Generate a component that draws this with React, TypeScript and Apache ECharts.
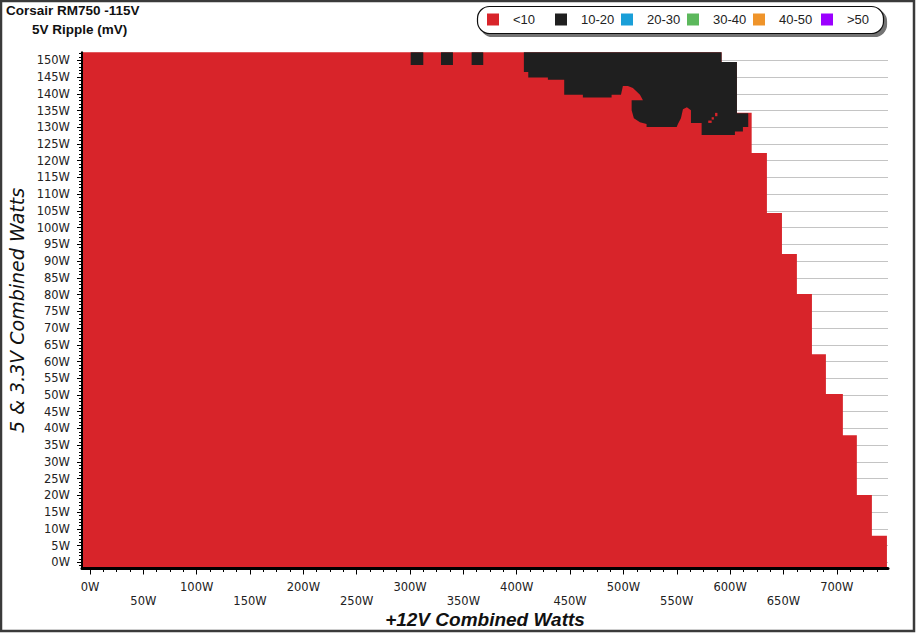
import React, { useEffect, useRef } from 'react';
import * as echarts from 'echarts';

// ---- legend / series ----
const seriesNames = ['<10', '10-20', '20-30', '30-40', '40-50', '>50'];
const seriesColors = ['#d8242a', '#1f1f1f', '#1a9fd8', '#5cb85c', '#ef942a', '#9b00ff'];
const legendLeft = [487, 555, 621, 687, 753, 821];

// ---- axis ranges (W) ----
const X_MIN = -7.5;
const X_MAX = 748;
const Y_MIN = -1.85;
const Y_MAX = 152.4;

// ---- tick labels ----
const xTickLabels = [0, 50, 100, 150, 200, 250, 300, 350, 400, 450, 500, 550, 600, 650, 700];
const yTickLabels = [0, 5, 10, 15, 20, 25, 30, 35, 40, 45, 50, 55, 60, 65, 70, 75, 80, 85, 90, 95, 100, 105, 110, 115, 120, 125, 130, 135, 140, 145, 150];

const range = (a: number, b: number, s: number) => {
  const out: number[] = [];
  for (let v = a; v <= b + 1e-9; v += s) out.push(+v.toFixed(3));
  return out;
};
const xMinorTicks = range(0, 737.5, 12.5);
const yMinorTicks = range(-1, 152, 1);

// ---- load region: for each 5V&3.3V band (top edge, W) the max +12V load (W) ----
const bandTop5V = [152.4, 149.5, 134.3, 122.3, 104.4, 92.1, 80.2, 62.2, 50.3, 38.0, 20.1, 7.9];
const bandMax12V = [592.0, 606.4, 620.2, 634.5, 648.6, 662.6, 676.7, 689.8, 705.7, 718.8, 732.9, 747.0];

// ---- 10-20 mV region outline [+12V W, 5V&3.3V W] ----
const ripple10to20Outline = [
  [406.7, 152.4], [592.0, 152.4], [592.0, 149.5], [606.4, 149.5], [606.4, 134.2], [617.0, 134.2],
  [617.0, 130.1], [612.0, 130.1], [612.0, 128.7], [604.5, 128.7], [604.5, 127.7], [573.3, 127.7],
  [573.3, 131.3], [563.3, 131.3], [563.3, 135.1], [559.5, 136.0], [555.8, 135.4], [553.9, 132.7],
  [551.1, 131.0], [549.9, 130.1], [521.7, 130.1], [521.7, 131.0], [515.5, 131.5], [509.8, 132.7],
  [507.7, 135.1], [507.7, 138.1], [518.3, 138.1], [515.5, 139.7], [508.9, 141.7], [504.2, 142.3],
  [499.5, 142.3], [497.7, 139.7], [488.9, 139.7], [488.9, 138.9], [462.0, 138.9], [462.0, 139.7],
  [444.5, 139.7], [444.5, 144.2], [429.2, 144.2], [429.2, 144.9], [410.8, 144.9], [410.8, 146.5],
  [406.7, 146.5],
];
// isolated 10-20 mV cells [x0, x1, y0, y1]
const ripple10to20Cells = [
  [300.6, 312.4, 148.6, 152.4],
  [329.0, 340.2, 148.6, 152.4],
  [357.7, 368.6, 148.6, 152.4],
];
// isolated <10 mV specks inside the 10-20 region [x0, x1, y0, y1]
const rippleBelow10Specks = [
  [579.5, 582.7, 131.3, 132.0],
  [582.7, 584.8, 132.3, 133.0],
  [585.9, 588.1, 133.3, 134.3],
];

const loadOutline = () => {
  const pts: number[][] = [[X_MIN, Y_MIN], [X_MIN, bandTop5V[0]]];
  bandTop5V.forEach((top, i) => {
    const bottom = i + 1 < bandTop5V.length ? bandTop5V[i + 1] : Y_MIN;
    pts.push([bandMax12V[i], top], [bandMax12V[i], bottom]);
  });
  return pts;
};

const rectFor = (api: any, c: number[], fill: string) => {
  const p0 = api.coord([c[0], c[3]]);
  const p1 = api.coord([c[1], c[2]]);
  return {
    type: 'rect',
    shape: { x: p0[0], y: p0[1], width: p1[0] - p0[0], height: p1[1] - p0[1] },
    style: { fill },
  };
};

const shapesSeries = (idx: number, polygons: number[][][], cells: number[][], z: number) => ({
  type: 'custom',
  name: seriesNames[idx],
  coordinateSystem: 'cartesian2d',
  xAxisIndex: 0,
  yAxisIndex: 0,
  silent: true,
  z,
  itemStyle: { color: seriesColors[idx] },
  data: polygons.length || cells.length ? [[0, 0]] : [],
  renderItem: (_params: any, api: any) => ({
    type: 'group',
    children: [
      ...polygons.map((poly) => ({
        type: 'polygon',
        shape: { points: poly.map((p) => api.coord(p)) },
        style: { fill: seriesColors[idx] },
      })),
      ...cells.map((c) => rectFor(api, c, seriesColors[idx])),
    ],
  }),
});

const labelFont = "'DejaVu Sans', Verdana, sans-serif";
const sansFont = "'Liberation Sans', Arial, sans-serif";

const option: any = {
  animation: false,
  backgroundColor: '#ffffff',
  title: [
    {
      text: 'Corsair RM750 -115V',
      left: 6,
      top: 3,
      padding: 0,
      textStyle: { fontFamily: sansFont, fontWeight: 'bold', fontSize: 13.5, color: '#111' },
    },
    {
      text: '5V Ripple (mV)',
      left: 32,
      top: 22,
      padding: 0,
      textStyle: { fontFamily: sansFont, fontWeight: 'bold', fontSize: 13.5, color: '#111' },
    },
  ],
  legend: seriesNames.map((n, i) => ({
    left: legendLeft[i],
    top: 13,
    padding: 0,
    itemWidth: 12,
    itemHeight: 12,
    icon: 'rect',
    selectedMode: false,
    z: 20,
    textStyle: {
      fontFamily: sansFont,
      fontSize: 13,
      color: '#222',
      padding: [0, 0, 0, 9],
    },
    data: [{ name: n, itemStyle: { color: seriesColors[i] } }],
  })),
  graphic: [
    {
      type: 'rect',
      shape: { x: 477.5, y: 6.5, width: 406, height: 27, r: 12 },
      style: {
        fill: '#fff',
        stroke: '#111',
        lineWidth: 1.2,
        shadowColor: 'rgba(0,0,0,0.55)',
        shadowBlur: 1,
        shadowOffsetX: 3,
        shadowOffsetY: 3,
      },
      silent: true,
      z: 1,
    },
    {
      type: 'rect',
      shape: { x: 1, y: 1, width: 913, height: 630 },
      style: { fill: 'none', stroke: '#3a3a3a', lineWidth: 2.5 },
      silent: true,
      z: 100,
    },
  ],
  grid: { left: 82, right: 28, top: 52.3, bottom: 64.5, containLabel: false, outerBoundsMode: 'none' },
  xAxis: [
    {
      type: 'value',
      position: 'bottom',
      min: X_MIN,
      max: X_MAX,
      axisLine: { show: false, onZero: false },
      splitLine: { show: false },
      axisTick: { show: true, customValues: xMinorTicks, length: 3.5, lineStyle: { color: '#000', width: 1 } },
      axisLabel: {
        customValues: xTickLabels,
        formatter: (v: number) => (v % 100 === 0 ? `${v}W` : `\n${v}W`),
        margin: 11.5,
        lineHeight: 14,
        fontFamily: labelFont,
        fontSize: 11.5,
        color: '#222',
      },
      name: '+12V Combined Watts',
      nameLocation: 'middle',
      nameGap: 41.5,
      nameMoveOverlap: false,
      nameTextStyle: {
        fontFamily: sansFont,
        fontWeight: 'bold',
        fontStyle: 'italic',
        fontSize: 19,
        color: '#111',
      },
      z: 0,
    },
    {
      type: 'value',
      position: 'bottom',
      min: X_MIN,
      max: X_MAX,
      axisLine: { show: true, onZero: false, lineStyle: { color: '#000', width: 3 } },
      splitLine: { show: false },
      axisTick: { show: true, customValues: xTickLabels, length: 6, lineStyle: { color: '#000', width: 1 } },
      axisLabel: { show: false },
      z: 10,
    },
  ],
  yAxis: [
    {
      type: 'value',
      position: 'left',
      min: Y_MIN,
      max: Y_MAX,
      axisLine: { show: false, onZero: false },
      axisTick: { show: true, customValues: yTickLabels, length: 5, lineStyle: { color: '#000', width: 1 } },
      axisLabel: {
        customValues: yTickLabels,
        formatter: (v: number) => `${v}W`,
        margin: 12,
        fontFamily: labelFont,
        fontSize: 11.5,
        color: '#222',
      },
      splitLine: { show: true, lineStyle: { color: '#c4c4c4', width: 1.2 } },
      name: '5 & 3.3V Combined Watts',
      nameLocation: 'middle',
      nameGap: 56,
      nameMoveOverlap: false,
      nameRotate: 90,
      nameTextStyle: {
        fontFamily: labelFont,
        fontStyle: 'italic',
        fontSize: 19,
        color: '#111',
      },
      z: 0,
    },
    {
      type: 'value',
      position: 'left',
      min: Y_MIN,
      max: Y_MAX,
      axisLine: { show: true, onZero: false, lineStyle: { color: '#000', width: 2 } },
      axisTick: { show: true, customValues: yMinorTicks, length: 3, lineStyle: { color: '#000', width: 1 } },
      axisLabel: { show: false },
      splitLine: { show: false },
      z: 10,
    },
  ],
  series: [
    shapesSeries(0, [loadOutline()], [], 2),
    shapesSeries(1, [ripple10to20Outline], ripple10to20Cells, 3),
    shapesSeries(0, [], rippleBelow10Specks, 4),
    shapesSeries(2, [], [], 2),
    shapesSeries(3, [], [], 2),
    shapesSeries(4, [], [], 2),
    shapesSeries(5, [], [], 2),
  ],
};

export default function App() {
  const ref = useRef<HTMLDivElement>(null);
  useEffect(() => {
    if (!ref.current) return;
    const chart = echarts.init(ref.current, null, { renderer: 'svg' });
    chart.setOption(option);
    return () => chart.dispose();
  }, []);
  return (
    <div
      ref={ref}
      style={{ position: 'fixed', left: 0, top: 0, width: 916, height: 633, background: '#fff' }}
    />
  );
}
